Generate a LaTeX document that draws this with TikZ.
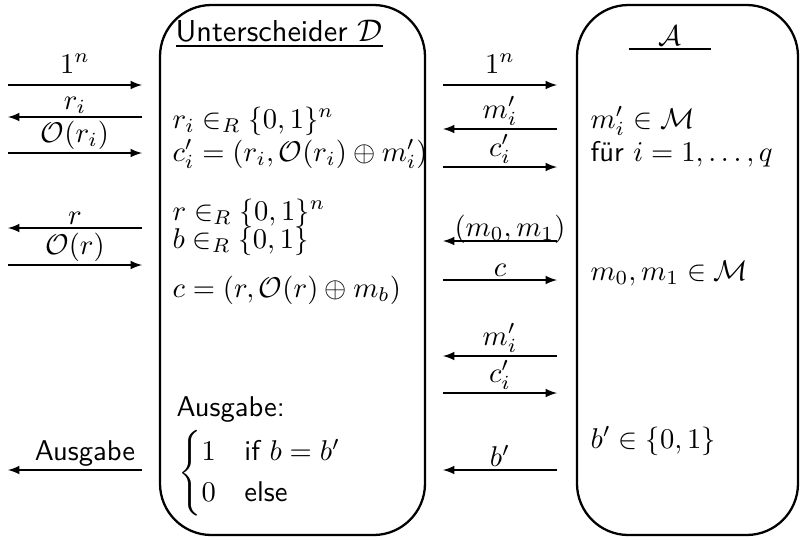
\documentclass[tikz,border=0pt]{standalone}
\usepackage{amsmath,amssymb}
\usepackage{tikz}
\usetikzlibrary{arrows,positioning}

\newcommand{\pxu}{0.35pt}

\tikzset{
    party/.style={draw, thick, rounded corners=18pt, inner sep=0pt},
    msg/.style={-latex, thin},
    lbl/.style={midway, above, inner sep=1pt},
    txt/.style={anchor=base west, inner sep=0pt}
}

\begin{document}
\begin{tikzpicture}[x=\pxu, y=-\pxu, font=\sffamily]
    \useasboundingbox (0,0) rectangle (800,539);

    % the two parties
    \node (D) [party, minimum width=265*\pxu, minimum height=530*\pxu] at (292.5,270) {};
    \node (A) [party, minimum width=221*\pxu, minimum height=530*\pxu] at (687.5,270) {};

    % Unterscheider
    \node (Dtitle) [txt, font=\sffamily\fontsize{10.6}{12}\selectfont] at (175,41)
        {\underline{Unterscheider $\mathcal{D}$}};
    \node (D1) [txt] at (172,128) {$r_i \in_R \{0,1\}^n$};
    \node (D2) [txt] at (172,161) {$c'_i = (r_i, \mathcal{O}(r_i) \oplus m'_i)$};
    \node (D3) [txt] at (172,220) {$r \in_R \{0,1\}^n$};
    \node (D4) [txt] at (172,248) {$b \in_R \{0,1\}$};
    \node (D5) [txt] at (172,297) {$c = (r, \mathcal{O}(r) \oplus m_b)$};
    \node (D6) [txt] at (176,416) {Ausgabe:};
    \node (D7) [anchor=west, inner sep=0pt] at (178,473)
        {$\begin{cases} 1 & \text{if } b = b' \\ 0 & \text{else} \end{cases}$};

    % Angreifer
    \node (Atitle) [txt] at (628,45) {\underline{\makebox[29pt]{$\mathcal{A}$}}};
    \node (A1) [txt] at (590,128) {$m'_i \in \mathcal{M}$};
    \node (A2) [txt] at (590,161) {für $i = 1, \ldots, q$};
    \node (A3) [txt] at (590,280) {$m_0, m_1 \in \mathcal{M}$};
    \node (A4) [txt] at (590,448) {$b' \in \{0,1\}$};

    % messages outside
    \foreach \y/\xa/\xb/\dy/\lab [count=\k] in {
        85/8/142/3/{$1^n$}, 117/142/8/0/{$r_i$}, 153/8/142/0/{$\mathcal{O}(r_i)$},
        228/142/8/0/{$r$}, 265/8/142/0/{$\mathcal{O}(r)$}, 470/142/8/0/{\hspace{7pt}Ausgabe}} {
        \coordinate (l\k a) at (\xa,\y);
        \coordinate (l\k b) at (\xb,\y);
        \draw[msg] (l\k a) -- (l\k b) node[lbl, yshift=\dy pt] {\lab};
    }

    % messages between D and A
    \foreach \y/\xa/\xb/\dy/\lab [count=\k] in {
        85/443/557/3/{$1^n$}, 129/557/443/0/{$m'_i$}, 167/443/557/0/{$c'_i$},
        241/557/443/-2/{\hspace{7pt}$(m_0,m_1)$}, 280/443/557/0/{$c$},
        356/557/443/0/{$m'_i$}, 393/443/557/0/{$c'_i$}, 470/557/443/0/{$b'$}} {
        \coordinate (m\k a) at (\xa,\y);
        \coordinate (m\k b) at (\xb,\y);
        \draw[msg] (m\k a) -- (m\k b) node[lbl, yshift=\dy pt] {\lab};
    }
\end{tikzpicture}
\end{document}
